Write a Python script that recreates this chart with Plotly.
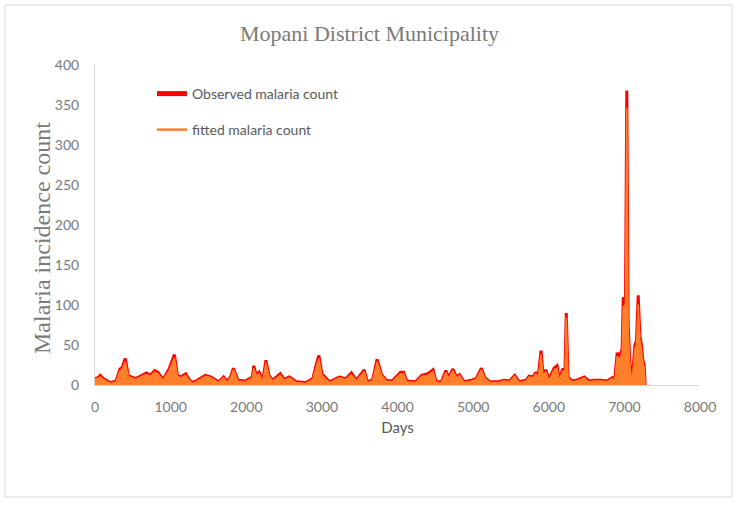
import plotly.graph_objects as go

# ---------------- data ----------------
days = [0, 40, 70, 110, 200, 280, 330, 360, 400, 440, 480, 540, 620, 680, 730, 790, 830, 900,
        980, 1010, 1050, 1090, 1130, 1200, 1250, 1300, 1380, 1460, 1530, 1600, 1635, 1700, 1750,
        1800, 1830, 1890, 1990, 2080, 2100, 2130, 2170, 2220, 2260, 2300, 2350, 2450, 2500, 2570,
        2660, 2790, 2880, 2925, 2960, 3000, 3100, 3230, 3320, 3390, 3455, 3560, 3600, 3670, 3730,
        3790, 3850, 3930, 4040, 4080, 4120, 4240, 4320, 4400, 4470, 4510, 4580, 4640, 4680, 4730,
        4780, 4820, 4880, 4980, 5040, 5110, 5150, 5220, 5330, 5410, 5480, 5550, 5610, 5700, 5740,
        5790, 5830, 5860, 5898, 5925, 5965, 6000, 6070, 6110, 6140, 6180, 6215, 6232, 6255, 6310,
        6370, 6470, 6530, 6600, 6690, 6770, 6840, 6870, 6905, 6940, 6970, 6985, 7015, 7032, 7050,
        7075, 7100, 7140, 7160, 7183, 7205, 7225, 7245, 7262, 7275]

observed = [8, 9, 12, 8, 3, 5, 20, 22, 33, 12, 10, 8, 12, 15, 12, 18, 16, 7,
            20, 28, 38, 12, 10, 14, 6, 3, 8, 12, 10, 6, 4, 10, 4,
            12, 21, 6, 5, 10, 24, 13, 16, 6, 31, 12, 6, 14, 7, 10,
            4, 3, 8, 25, 37, 14, 4, 10, 8, 15, 6, 19, 4, 6, 32,
            13, 6, 5, 16, 16, 5, 4, 12, 14, 19, 4, 4, 18, 9, 20,
            10, 13, 4, 6, 8, 21, 10, 4, 4, 6, 5, 12, 4, 6, 11,
            10, 16, 10, 43, 12, 19, 6, 21, 24, 6, 19, 20, 90, 10, 5,
            6, 10, 5, 6, 6, 5, 9, 5, 40, 36, 45, 108, 110, 368, 75,
            25, 3, 50, 55, 112, 62, 50, 31, 25, 0]

fitted = [7, 8, 10, 7, 2, 4, 18, 20, 29, 11, 9, 7, 11, 13, 11, 16, 14, 6,
          18, 25, 34, 11, 9, 12, 5, 2, 7, 11, 9, 5, 3, 9, 3,
          11, 19, 5, 4, 9, 21, 12, 14, 5, 28, 11, 5, 12, 6, 9,
          3, 2, 7, 22, 33, 12, 3, 9, 7, 13, 5, 17, 3, 5, 29,
          12, 5, 4, 14, 14, 4, 3, 11, 12, 17, 3, 3, 16, 8, 18,
          9, 12, 3, 5, 7, 19, 9, 3, 3, 5, 4, 11, 3, 5, 10,
          9, 14, 9, 38, 11, 17, 5, 19, 21, 5, 17, 18, 84, 9, 4,
          5, 9, 4, 5, 5, 4, 8, 4, 36, 32, 41, 98, 100, 346, 68,
          22, 2, 45, 50, 101, 56, 45, 28, 22, 0]

x_ticks = [0, 1000, 2000, 3000, 4000, 5000, 6000, 7000, 8000]
y_ticks = [0, 50, 100, 150, 200, 250, 300, 350, 400]

RED = "#FF0000"
ORANGE = "#FF7F2A"
GREY = "#595959"
TICKGREY = "#7A7A7A"
SANS = "Lato, 'Open Sans', sans-serif"
SERIF = "'Liberation Serif', 'DejaVu Serif', serif"

fig = go.Figure()

fig.add_trace(go.Scatter(x=days, y=observed, mode="lines", fill="tozeroy",
                         line=dict(color=RED, width=3), fillcolor=RED,
                         showlegend=False, hoverinfo="skip"))
fig.add_trace(go.Scatter(x=days, y=fitted, mode="lines", fill="tozeroy",
                         line=dict(color=ORANGE, width=1.5), fillcolor=ORANGE,
                         showlegend=False, hoverinfo="skip"))

# legend entries
fig.add_trace(go.Scatter(x=[None], y=[None], mode="lines", name="Observed malaria count",
                         line=dict(color=RED, width=5), legend="legend"))
fig.add_trace(go.Scatter(x=[None], y=[None], mode="lines", name="fitted malaria count",
                         line=dict(color=ORANGE, width=2.5), legend="legend2"))

W, H = 739, 506
L, R, T, B = 95, 39, 65, 121
pw, ph = W - L - R, H - T - B

def px_x(px):
    return (px - L) / pw

def px_y(py):
    return (H - B - py) / ph

legend_common = dict(bgcolor="rgba(0,0,0,0)", font=dict(family=SANS, size=14, color=GREY),
                     xanchor="left", yanchor="middle", itemwidth=30)

fig.update_layout(
    width=W, height=H,
    margin=dict(l=L, r=R, t=T, b=B),
    paper_bgcolor="white", plot_bgcolor="white",
    title=dict(text="Mopani District Municipality", x=0.5, xanchor="center",
               y=1 - 33 / H, yanchor="middle",
               font=dict(family=SERIF, size=22, color=TICKGREY)),
    xaxis=dict(range=[0, 8000], tickvals=x_ticks, ticktext=[str(v) for v in x_ticks],
               showgrid=False, zeroline=False, showline=True, linecolor="#D9D9D9", linewidth=1,
               ticks="", ticklabelstandoff=9, tickfont=dict(family=SANS, size=14, color=TICKGREY),
               title=dict(text="Days", font=dict(family=SANS, size=15, color=GREY), standoff=8)),
    yaxis=dict(range=[0, 400], tickvals=y_ticks, ticktext=[str(v) for v in y_ticks],
               showgrid=False, zeroline=False, showline=True, linecolor="#D9D9D9", linewidth=1,
               ticks="", ticklabelstandoff=12, tickfont=dict(family=SANS, size=14, color=TICKGREY)),
    annotations=[dict(text="Malaria incidence count", xref="paper", yref="paper",
                      x=px_x(42), y=px_y(238), xanchor="center", yanchor="middle",
                      textangle=-90, showarrow=False,
                      font=dict(family=SERIF, size=24, color=TICKGREY))],
    legend=dict(x=px_x(152), y=px_y(94), **legend_common),
    legend2=dict(x=px_x(152), y=px_y(130), **legend_common),
    shapes=[dict(type="rect", xref="paper", yref="paper",
                 x0=px_x(5), x1=px_x(732), y0=px_y(497), y1=px_y(5),
                 line=dict(color="#D9D9D9", width=1), layer="below")],
)

fig.write_html("out.html", config={"displayModeBar": False},
               post_script="document.body.style.margin='0';")
